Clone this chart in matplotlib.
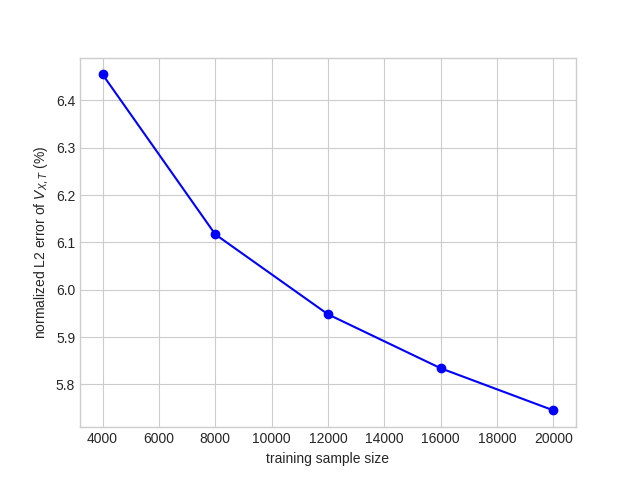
import matplotlib
matplotlib.use("Agg")
import matplotlib.pyplot as plt

plt.style.use("seaborn-v0_8-whitegrid")
plt.rcParams['font.family'] = ['Liberation Sans', 'DejaVu Sans']

sample_sizes = [4000, 8000, 12000, 16000, 20000]
errors = [6.455, 6.117, 5.948, 5.834, 5.745]

fig, ax = plt.subplots(figsize=(6.4, 4.8), dpi=100)
ax.plot(sample_sizes, errors, 'o-', color='blue')
ax.set_xlabel("training sample size")
ax.set_ylabel(r"normalized L2 error of $V_{X,T}$ (%)")
for s in ax.spines.values():
    s.set_visible(True)
    s.set_color('#cccccc')
fig.savefig("out.png")
